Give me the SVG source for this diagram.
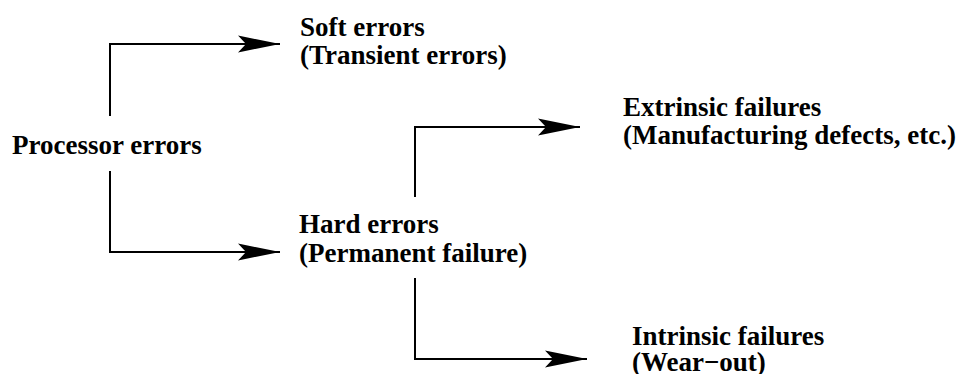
<svg xmlns="http://www.w3.org/2000/svg" width="957" height="374" viewBox="0 0 957 374">
<style>
.t{font-family:"Liberation Serif","Times New Roman",serif;font-weight:bold;font-size:27px;fill:#000}
.c{fill:none;stroke:#000;stroke-width:2}
</style>
<defs>
<marker id="ah" markerUnits="userSpaceOnUse" viewBox="-43 -10 44 20" refX="0" refY="0" markerWidth="44" markerHeight="20" orient="auto">
<path d="M0,0 L-42,-8.5 L-34,0 L-42,8.5 Z" fill="#000"/>
</marker>
</defs>
<rect width="957" height="374" fill="#fff"/>
<g id="connectors">
<path class="c" d="M110,116 V44 H280" marker-end="url(#ah)"/>
<path class="c" d="M110,171 V252 H280" marker-end="url(#ah)"/>
<path class="c" d="M415,197 V127 H580" marker-end="url(#ah)"/>
<path class="c" d="M415,278 V359 H587" marker-end="url(#ah)"/>
</g>
<g id="processor"><text class="t" x="12" y="154">Processor errors</text></g>
<g id="soft"><text class="t" x="300" y="36">Soft errors</text><text class="t" x="300" y="64">(Transient errors)</text></g>
<g id="hard"><text class="t" x="299" y="233">Hard errors</text><text class="t" x="299" y="262">(Permanent failure)</text></g>
<g id="extrinsic"><text class="t" x="623" y="116">Extrinsic failures</text><text class="t" x="623" y="144">(Manufacturing defects, etc.)</text></g>
<g id="intrinsic"><text class="t" x="632" y="345">Intrinsic failures</text><text class="t" x="632" y="371">(Wear−out)</text></g>
</svg>
